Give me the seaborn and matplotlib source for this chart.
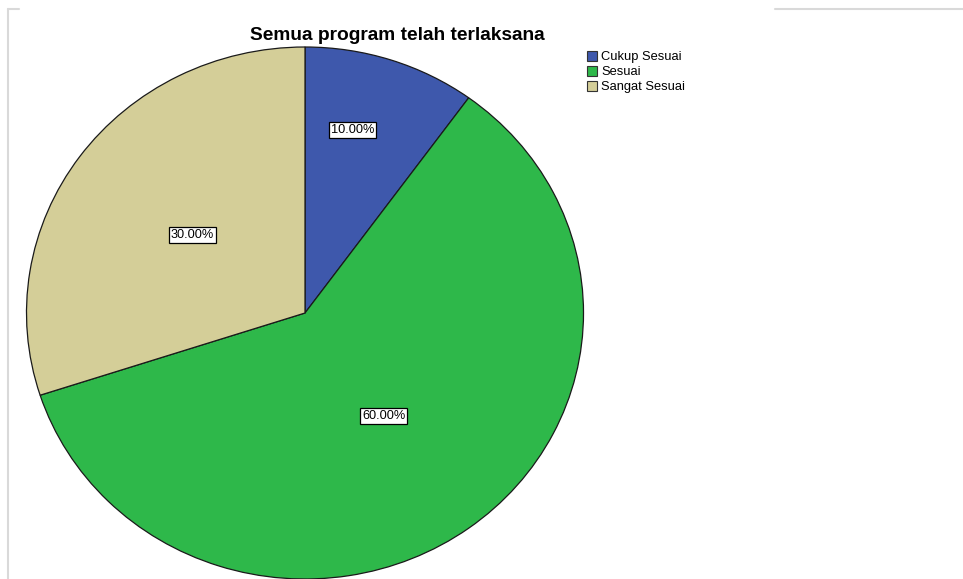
import matplotlib.pyplot as plt
import seaborn as sns
import numpy as np

categories = ['Cukup Sesuai', 'Sesuai', 'Sangat Sesuai']
percentages = [10.0, 60.0, 30.0]
colors = ['#3E58AC', '#2EB84A', '#D4CE98']
title = 'Semua program telah terlaksana'

sns.set_theme(style='white')
plt.rcParams['font.family'] = ['Liberation Sans', 'DejaVu Sans']
plt.rcParams['text.color'] = 'black'

W, H = 963, 579
fig = plt.figure(figsize=(W / 100, H / 100), dpi=100)

# pie axes placed in pixels (center ~ (305, 313), rx ~ 278, ry ~ 266)
cx, cy, rx, ry = 305, 313, 278.5, 266
ax = fig.add_axes([(cx - rx) / W, (H - cy - ry) / H, 2 * rx / W, 2 * ry / H])

wedges, _ = ax.pie(percentages, colors=colors, startangle=90, counterclock=False,
                   radius=1, wedgeprops=dict(edgecolor='#1a1a1a', linewidth=0.9))
ax.set_aspect('auto')
ax.set_xlim(-1, 1)
ax.set_ylim(-1, 1)
ax.axis('off')

# percent labels in white boxes (distance from centre, small angle nudge)
label_r = [0.71, 0.48, 0.5]
label_shift = [4, 0, 0]
for w, p, r, s in zip(wedges, percentages, label_r, label_shift):
    mid = np.deg2rad((w.theta1 + w.theta2) / 2 + s)
    ax.text(r * np.cos(mid), r * np.sin(mid), f'{p:.2f}%', ha='center', va='center',
            fontsize=9.2, color='black',
            bbox=dict(boxstyle='square,pad=0.15', facecolor='white', edgecolor='black', linewidth=0.9))

fig.text(397 / W, 1 - 35 / H, title, ha='center', va='center', fontsize=13.8,
         fontweight='bold', color='black')

leg = fig.legend(wedges, categories, loc='upper left', bbox_to_anchor=(587 / W, 1 - 51 / H),
                 frameon=False, fontsize=9.3, handlelength=0.8, handleheight=0.8,
                 handletextpad=0.3, labelspacing=0.2, borderpad=0, borderaxespad=0)
for h in leg.legend_handles:
    h.set_edgecolor('#333333')
    h.set_linewidth(0.8)

# light frame fragments around the chart area
grey = '#d9d9d9'
fig.add_artist(plt.Line2D([8 / W, 8 / W], [0, 1 - 9 / H], color=grey, lw=1.5))
fig.add_artist(plt.Line2D([8 / W, 19 / W], [1 - 9 / H, 1 - 9 / H], color=grey, lw=1.5))
fig.add_artist(plt.Line2D([775 / W, 963 / W], [1 - 9 / H, 1 - 9 / H], color=grey, lw=1.5))

fig.savefig('out.png', dpi=100)
